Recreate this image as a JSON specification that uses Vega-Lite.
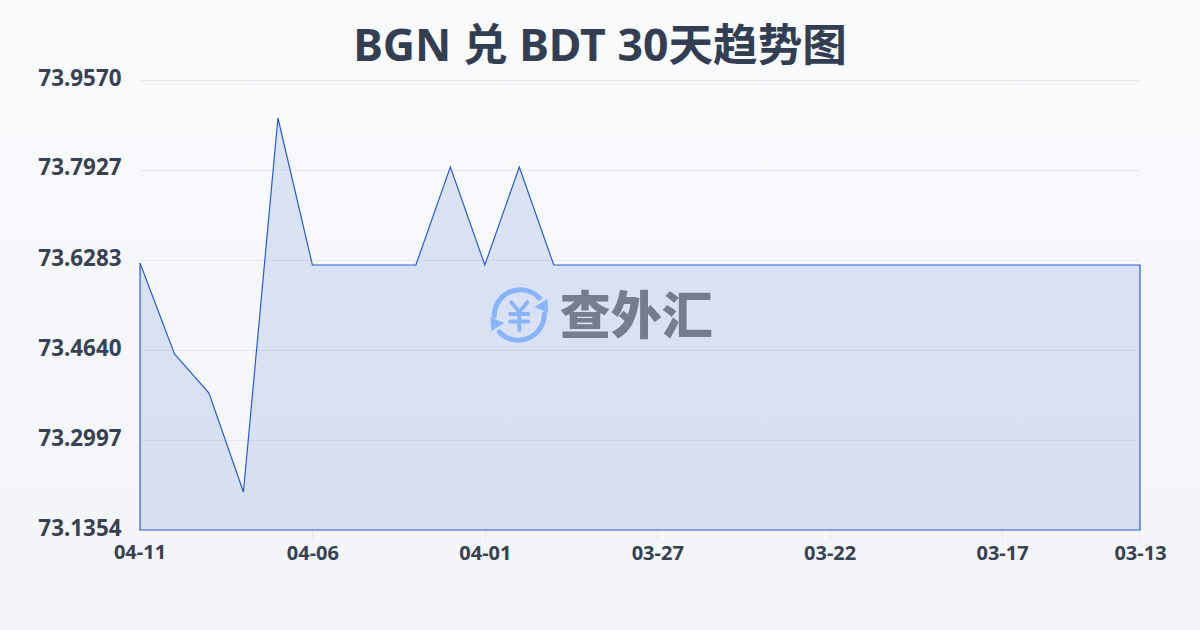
{"$schema":"https://vega.github.io/schema/vega-lite/v6.json","width":1200,"height":630,"autosize":"none","padding":0,"background":"#f5f7fa","title":{"text":"BGN 兑 BDT 30天趋势图","anchor":"middle","frame":"group","font":"Noto Sans, Noto Sans CJK SC","fontSize":44.6,"fontWeight":"bold","color":"#343e52","baseline":"middle","offset":-93},"view":{"stroke":null,"fill":{"gradient":"linear","x1":0,"y1":0,"x2":0,"y2":1,"stops":[{"offset":0,"color":"#f8fafc"},{"offset":1,"color":"#f2f4f7"}]}},"data":{"values":[{"date":"04-11","rate":73.6229},{"date":"04-10","rate":73.4567},{"date":"04-09","rate":73.3855},{"date":"04-08","rate":73.2048},{"date":"04-07","rate":73.8876},{"date":"04-06","rate":73.6192},{"date":"04-05","rate":73.6192},{"date":"04-04","rate":73.6192},{"date":"04-03","rate":73.6192},{"date":"04-02","rate":73.7982},{"date":"04-01","rate":73.6192},{"date":"03-31","rate":73.7982},{"date":"03-30","rate":73.6192},{"date":"03-29","rate":73.6192},{"date":"03-28","rate":73.6192},{"date":"03-27","rate":73.6192},{"date":"03-26","rate":73.6192},{"date":"03-25","rate":73.6192},{"date":"03-24","rate":73.6192},{"date":"03-23","rate":73.6192},{"date":"03-22","rate":73.6192},{"date":"03-21","rate":73.6192},{"date":"03-20","rate":73.6192},{"date":"03-19","rate":73.6192},{"date":"03-18","rate":73.6192},{"date":"03-17","rate":73.6192},{"date":"03-16","rate":73.6192},{"date":"03-15","rate":73.6192},{"date":"03-14","rate":73.6192},{"date":"03-13","rate":73.6192}]},"layer":[{"data":{"values":[{"level":73.2997},{"level":73.464},{"level":73.6283},{"level":73.7927},{"level":73.957}]},"mark":{"type":"rule","color":"#e5e7eb","strokeWidth":1,"yOffset":0.5},"encoding":{"x":{"datum":"04-11","type":"ordinal"},"x2":{"datum":"03-13"},"y":{"field":"level","type":"quantitative"}}},{"mark":{"type":"area","fill":"#3c6bd8","fillOpacity":0.15,"stroke":"#2a5cc8","strokeWidth":1.2},"encoding":{"x":{"field":"date","type":"ordinal","sort":null,"scale":{"type":"point","padding":0,"range":[140,1140],"domain":["04-11","04-10","04-09","04-08","04-07","04-06","04-05","04-04","04-03","04-02","04-01","03-31","03-30","03-29","03-28","03-27","03-26","03-25","03-24","03-23","03-22","03-21","03-20","03-19","03-18","03-17","03-16","03-15","03-14","03-13"]},"axis":{"title":null,"values":["04-06","04-01","03-27","03-22","03-17","03-13"],"labelAngle":0,"labelAlign":"center","labelFont":"Noto Sans","labelFontSize":20,"labelFontWeight":"bold","labelColor":"#374151","labelPadding":13,"labelOverlap":false,"labelBound":false,"labelFlush":false,"ticks":true,"tickColor":"#e5e7eb","tickSize":10,"domain":false,"grid":false,"offset":-100}},"y":{"field":"rate","type":"quantitative","scale":{"domain":[73.1354,73.957],"nice":false,"zero":false,"range":[530,80]},"axis":{"title":null,"values":[73.1354,73.2997,73.464,73.6283,73.7927,73.957],"format":".4f","labelFont":"Noto Sans","labelFontSize":22.4,"labelFontWeight":"bold","labelColor":"#374151","labelPadding":19,"labelOffset":-2,"tickSize":0,"domain":false,"grid":false,"offset":-140}},"y2":{"datum":73.1354}}},{"data":{"values":[{"label":"04-11"}]},"mark":{"type":"text","font":"Noto Sans","fontSize":20,"fontWeight":"bold","color":"#374151","align":"center","baseline":"middle","dy":23},"encoding":{"x":{"field":"label","type":"ordinal"},"y":{"datum":73.1354,"type":"quantitative"},"text":{"field":"label"}}},{"data":{"values":[{"label":"logo"}]},"mark":{"type":"point","shape":"M-0.25 0.01A0.26 0.26 0 0 1 0.2 -0.17M0.25 -0.01A0.26 0.26 0 0 1 -0.2 0.17","size":40000,"filled":false,"stroke":"#8ab4f8","strokeWidth":5,"strokeCap":"round","opacity":1},"encoding":{"x":{"datum":"03-31","type":"ordinal"},"y":{"datum":73.528,"type":"quantitative"}}},{"data":{"values":[{"label":"logo"}]},"mark":{"type":"point","shape":"M0.28 -0.16L0.29 -0.02L0.15 -0.08ZM-0.28 0.16L-0.29 0.02L-0.15 0.08Z","size":40000,"filled":true,"fill":"#8ab4f8","opacity":1},"encoding":{"x":{"datum":"03-31","type":"ordinal"},"y":{"datum":73.528,"type":"quantitative"}}},{"data":{"values":[{"label":"logo"}]},"mark":{"type":"point","shape":"M-0.08 -0.127L0 -0.03L0.08 -0.127M-0.09 -0.01L0.09 -0.01M-0.09 0.065L0.09 0.065M0 -0.03L0 0.15","size":40000,"filled":false,"stroke":"#8ab4f8","strokeWidth":4,"strokeCap":"round","opacity":1},"encoding":{"x":{"datum":"03-31","type":"ordinal"},"y":{"datum":73.528,"type":"quantitative"}}},{"data":{"values":[{"label":"查外汇"}]},"mark":{"type":"text","font":"Noto Sans CJK SC","fontSize":51,"fontWeight":900,"color":"#747e90","align":"left","baseline":"middle","dx":6,"dy":4},"encoding":{"x":{"datum":"03-30","type":"ordinal"},"y":{"datum":73.528,"type":"quantitative"},"text":{"field":"label"}}}]}
